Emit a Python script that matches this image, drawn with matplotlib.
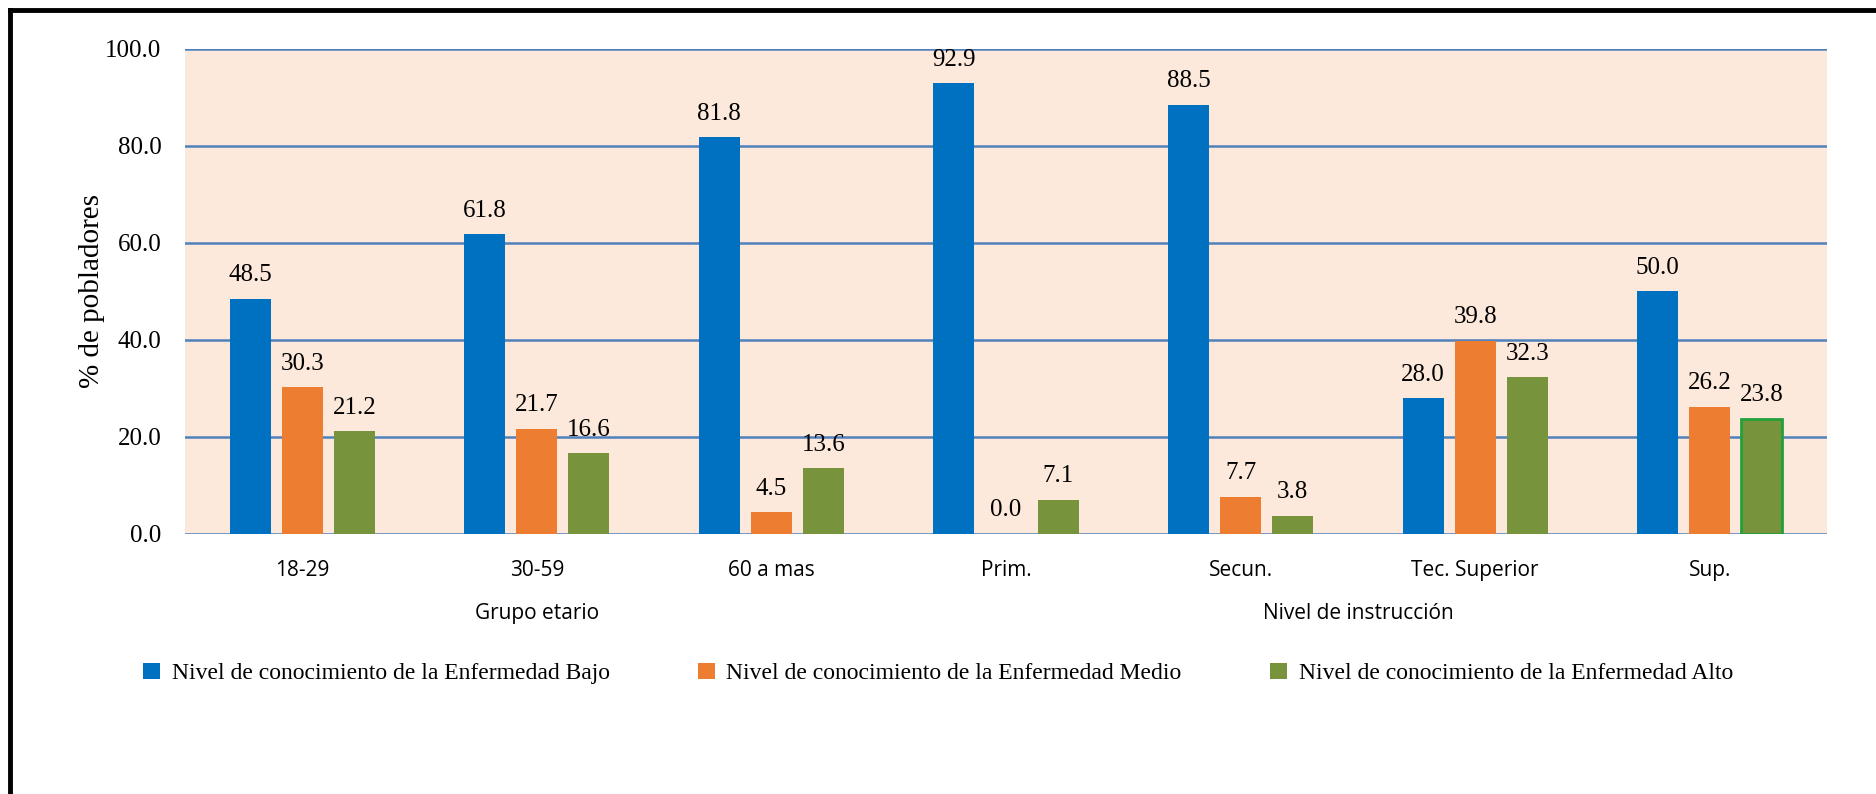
import matplotlib
matplotlib.use("Agg")
import matplotlib.pyplot as plt
import numpy as np
from matplotlib.lines import Line2D
from matplotlib.patches import Patch

categories = ["18-29", "30-59", "60 a mas", "Prim.", "Secun.", "Tec. Superior", "Sup."]
bajo = [48.5, 61.8, 81.8, 92.9, 88.5, 28.0, 50.0]
medio = [30.3, 21.7, 4.5, 0.0, 7.7, 39.8, 26.2]
alto = [21.2, 16.6, 13.6, 7.1, 3.8, 32.3, 23.8]
series_names = [
    "Nivel de conocimiento de la Enfermedad Bajo",
    "Nivel de conocimiento de la Enfermedad Medio",
    "Nivel de conocimiento de la Enfermedad Alto",
]
groups = [("Grupo etario", 0, 2), ("Nivel de instrucción", 3, 6)]
yticks = [0, 20, 40, 60, 80, 100]

colors = ["#0070C0", "#ED7D31", "#77933C"]
serif = "Liberation Serif"
sans = "Open Sans"

fig = plt.figure(figsize=(18.76, 7.94), dpi=100)
ax = fig.add_axes([0.0986, 0.3275, 0.8753, 0.6108])
ax.set_facecolor("#FCE9DB")

x = np.arange(len(categories))
step = 0.222
width = 0.175
for i, (vals, col) in enumerate(zip([bajo, medio, alto], colors)):
    pos = x + (i - 1) * step
    bars = ax.bar(pos, vals, width, color=col, zorder=3)
    for xp, v in zip(pos, vals):
        ax.annotate("{:.1f}".format(v), (xp, v), xytext=(0, 9), textcoords="offset points",
                    ha="center", va="bottom", fontsize=18, family=serif)
# last green bar has a bright green outline in the original
bars[-1].set_edgecolor("#22A03C")
bars[-1].set_linewidth(2)

ax.set_xlim(-0.5, len(categories) - 0.5)
ax.set_ylim(0, 100)
ax.set_yticks(yticks)
ax.set_yticklabels(["{:.1f}".format(t) for t in yticks], fontsize=18, family=serif)
ax.yaxis.grid(True, color="#4F81BD", linewidth=1.8, zorder=1)
ax.set_axisbelow(True)
ax.tick_params(axis="both", length=0)
ax.tick_params(axis="y", pad=17)
ax.set_xticks(x)
ax.set_xticklabels(categories, fontsize=15, family=sans)
ax.tick_params(axis="x", pad=19)
for s in ax.spines.values():
    s.set_visible(False)
ax.set_ylabel("% de pobladores", fontsize=21, family=serif, labelpad=0)

for name, a, b in groups:
    ax.text((a + b) / 2, -0.163, name, transform=ax.get_xaxis_transform(),
            ha="center", va="center", fontsize=15, family=sans)

handles = [Patch(facecolor=c, edgecolor="none") for c in colors]
fig.legend(handles, series_names, loc="center left", bbox_to_anchor=(0.065, 0.152), ncol=3,
           frameon=False, prop={"family": serif, "size": 17}, handlelength=0.7, handleheight=0.7,
           handletextpad=0.5, columnspacing=3.75)

# black frame along the top and left edges
fig.add_artist(Line2D([0.0053, 0.0053], [0, 0.9874], color="black", linewidth=3.5, transform=fig.transFigure))
fig.add_artist(Line2D([0.0053, 1], [0.9874, 0.9874], color="black", linewidth=3.5, transform=fig.transFigure))

fig.savefig("out.png", dpi=100)
